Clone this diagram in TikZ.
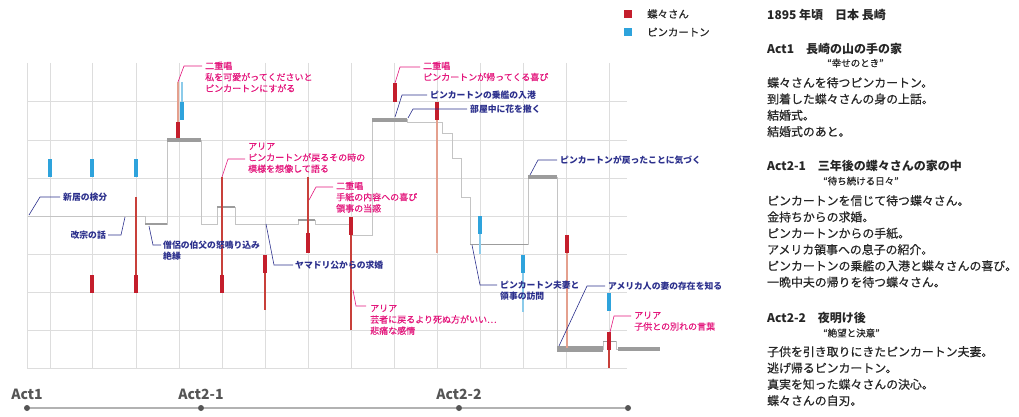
\documentclass[tikz,border=0pt]{standalone}
\usepackage{fontspec}
\setmainfont{Noto Sans CJK JP}
\newfontfamily\jpbody[FakeBold=0.6]{Noto Sans CJK JP}
\newfontfamily\jplabel[FakeBold=0.4]{Noto Sans CJK JP}
\usetikzlibrary{calc}
\definecolor{gridc}{HTML}{DDDDDD}
\definecolor{barred}{HTML}{C41E2C}
\definecolor{thinred}{HTML}{C8403A}
\definecolor{salmonc}{HTML}{E4A08E}
\definecolor{barblue}{HTML}{2EA3DC}
\definecolor{lightblue}{HTML}{8CCBEA}
\definecolor{bargray}{HTML}{9C9C9C}
\definecolor{stepc}{HTML}{C4C4C4}
\definecolor{pinkc}{HTML}{E3177C}
\definecolor{navyc}{HTML}{2B2F8C}
\definecolor{textc}{HTML}{262626}
\definecolor{actc}{HTML}{555555}
\begin{document}
\begin{tikzpicture}[x=1pt,y=-1pt,
  gridline/.style={draw=gridc, line width=0.8pt},
  redbar/.style={draw=barred, line width=4.5pt},
  bluebar/.style={draw=barblue, line width=4.5pt},
  redthin/.style={draw=thinred, line width=1.1pt},
  salmonthin/.style={draw=salmonc, line width=2pt},
  bluethin/.style={draw=lightblue, line width=1.1pt},
  graybar/.style={draw=bargray, line width=4pt},
  graythin/.style={draw=bargray, line width=1.6pt},
  stepline/.style={draw=stepc, line width=1pt},
  pinklab/.style={font=\jplabel\fontsize{9}{11.3}\selectfont, text=pinkc, align=left, inner sep=0pt, anchor=north west},
  navylab/.style={font=\fontsize{8.8}{11}\selectfont\bfseries, text=navyc, align=left, inner sep=0pt, anchor=north west},
  pinklead/.style={draw=pinkc, line width=0.6pt},
  navylead/.style={draw=navyc, line width=0.6pt},
  acttitle/.style={font=\fontsize{14}{14}\selectfont\bfseries, text=actc, inner sep=0pt},
  actdot/.style={circle, fill=actc, inner sep=0pt, minimum size=6pt},
  body/.style={font=\jpbody\fontsize{11.9}{16.3}\selectfont, text=textc, align=left, inner sep=0pt, anchor=north west},
  head/.style={font=\fontsize{12}{16}\selectfont\bfseries, text=textc, inner sep=0pt, anchor=west},
  quote/.style={font=\jpbody\fontsize{9.5}{12}\selectfont, text=textc, inner sep=0pt, anchor=west},
  legsq/.style={minimum size=8pt, inner sep=0pt},
  legtext/.style={font=\jpbody\fontsize{10.4}{12}\selectfont, text=textc, inner sep=0pt, anchor=west}
]
\useasboundingbox (0,0) rectangle (1019,417);

% grid
\foreach \x in {27,50,92,136,179,222,265,308,351,394,437,480,523,566,609}
  \draw[gridline] (\x,63) -- (\x,368);
\foreach \y in {101,140,178,216,254,292,330,368}
  \draw[gridline] (27,\y) -- (627,\y);

% step (mood) line
\draw[stepline] (28,216) -- (145,216) -- (145,224) -- (167,224) -- (167,140) -- (201,140)
  -- (201,224) -- (217,224) -- (217,207) -- (235,207) -- (235,224) -- (298,224) -- (298,220)
  -- (315,220) -- (315,224) -- (350,224) -- (350,235) -- (372,235) -- (372,120) -- (407,120)
  -- (407,123) -- (442,123) -- (442,133) -- (452,133) -- (452,158) -- (461,158) -- (461,197)
  -- (470,197) -- (470,244) -- (528,244) -- (528,177) -- (557,177) -- (557,349) -- (603,349)
  -- (603,341) -- (616,341) -- (616,349) -- (660,349);
\draw[graythin] (145,224) -- (167,224);
\draw[graybar] (167,140) -- (201,140);
\draw[graythin] (217,207) -- (235,207);
\draw[graythin] (298,220) -- (315,220);
\draw[graybar] (372,120) -- (407,120);
\draw[draw=bargray, line width=1pt] (470,244) -- (528,244);
\draw[graybar] (528,177) -- (557,177);
\draw[draw=bargray, line width=5.5pt] (557,349) -- (603,349);
\draw[draw=bargray, line width=1pt] (603,341) -- (616,341);
\draw[graybar] (618,349) -- (660,349);

% Pinkerton (blue)
\draw[bluebar] (50,159) -- (50,177);
\draw[bluebar] (92,159) -- (92,177);
\draw[bluebar] (136,159) -- (136,177);
\draw[bluethin] (182,82) -- (182,102);
\draw[bluebar] (182,102) -- (182,120);
\draw[bluethin] (480,234) -- (480,254);
\draw[bluebar] (480,216) -- (480,234);
\draw[bluethin] (523,273) -- (523,312);
\draw[bluebar] (523,255) -- (523,273);
\draw[bluebar] (609,293) -- (609,311);

% Butterfly (red)
\draw[redbar] (92,275) -- (92,293);
\draw[redthin] (136,197) -- (136,275);
\draw[redbar] (136,275) -- (136,293);
\draw[salmonthin] (178,82) -- (178,122);
\draw[redbar] (178,122) -- (178,138);
\draw[redthin] (222,177) -- (222,275);
\draw[redbar] (222,275) -- (222,293);
\draw[redthin] (265,273) -- (265,310);
\draw[redbar] (265,255) -- (265,273);
\draw[redthin] (308,177) -- (308,233);
\draw[redbar] (308,233) -- (308,253);
\draw[redthin] (351,235) -- (351,330);
\draw[redbar] (351,217) -- (351,235);
\draw[redbar] (395,83) -- (395,102);
\draw[salmonthin] (437,120) -- (437,253);
\draw[redbar] (437,102) -- (437,120);
\draw[salmonthin] (567,253) -- (567,348);
\draw[redbar] (567,235) -- (567,253);
\draw[redthin] (609,350) -- (609,368);
\draw[redbar] (609,332) -- (609,350);

% pink labels
\coordinate (pa1) at (178,82);  \coordinate (pb1) at (202,66);
\node[pinklab] (p1) at (205,61.5) {二重唱\\私を可愛がってくださいと\\ピンカートンにすがる};
\draw[pinklead] (pa1) -- ++(6,-16) -- (pb1);
\coordinate (pa2) at (222,177); \coordinate (pb2) at (245,159);
\node[pinklab] (p2) at (248,142.5) {アリア\\ピンカートンが戻るその時の\\模様を想像して語る};
\draw[pinklead] (pa2) -- ++(6,-18) -- (pb2);
\coordinate (pa3) at (309,200); \coordinate (pb3) at (333,187);
\node[pinklab] (p3) at (336,181.5) {二重唱\\手紙の内容への喜び\\領事の当惑};
\draw[pinklead] (pa3) -- ++(7,-13) -- (pb3);
\coordinate (pa4) at (353,290); \coordinate (pb4) at (366,306);
\node[pinklab] (p4) at (370,304.5) {アリア\\芸者に戻るより死ぬ方がいい…\\悲痛な感情};
\draw[pinklead] (pa4) -- ++(3,16) -- (pb4);
\coordinate (pa5) at (395,83); \coordinate (pb5) at (420,67);
\node[pinklab] (p5) at (423,61.5) {二重唱\\ピンカートンが帰ってくる喜び};
\draw[pinklead] (pa5) -- ++(5,-16) -- (pb5);
\coordinate (pa6) at (610,332); \coordinate (pb6) at (631,316);
\node[pinklab] (p6) at (634,311.5) {アリア\\子供との別れの言葉};
\draw[pinklead] (pa6) -- ++(4,-16) -- (pb6);

% navy labels
\coordinate (na1) at (29,215); \coordinate (nb1) at (60,197);
\node[navylab] (n1) at (63,192.5) {新居の検分};
\draw[navylead] (na1) -- ++(11,-18) -- (nb1);
\coordinate (na2) at (125,217); \coordinate (nb2) at (108,235);
\node[navylab, anchor=north east] (n2) at (106,230.5) {改宗の話};
\draw[navylead] (na2) -- ++(-4,18) -- (nb2);
\coordinate (na3) at (149,226); \coordinate (nb3) at (161,245);
\node[navylab] (n3) at (163,240.5) {僧侶の伯父の怒鳴り込み\\絶縁};
\draw[navylead] (na3) -- ++(4,19) -- (nb3);
\coordinate (na4) at (266,224); \coordinate (nb4) at (293,265);
\node[navylab] (n4) at (295,260.5) {ヤマドリ公からの求婚};
\draw[navylead] (na4) -- ++(8,41) -- (nb4);
\coordinate (na5) at (395,117); \coordinate (nb5) at (427,95);
\node[navylab] (n5) at (430,90.5) {ピンカートンの乗艦の入港};
\draw[navylead] (na5) -- ++(7,-22) -- (nb5);
\coordinate (na6) at (408,118); \coordinate (nb6) at (467,109);
\node[navylab] (n6) at (470,104.5) {部屋中に花を撒く};
\draw[navylead] (na6) -- ++(5,-9) -- (nb6);
\coordinate (na7) at (530,175); \coordinate (nb7) at (557,160);
\node[navylab] (n7) at (560,155.5) {ピンカートンが戻ったことに気づく};
\draw[navylead] (na7) -- ++(8,-15) -- (nb7);
\coordinate (na8) at (472,245); \coordinate (nb8) at (497,285);
\node[navylab] (n8) at (500,280.5) {ピンカートン夫妻と\\領事の訪問};
\draw[navylead] (na8) -- ++(8,40) -- (nb8);
\coordinate (na9) at (559,346); \coordinate (nb9) at (605,286);
\node[navylab] (n9) at (608,281.5) {アメリカ人の妻の存在を知る};
\draw[navylead] (na9) -- ++(28,-60) -- (nb9);

% time axis
\node[actdot] (d1) at (27,408) {};
\node[actdot] (d2) at (201,408) {};
\node[actdot] (d3) at (459,408) {};
\node[actdot] (d4) at (628,408) {};
\draw[draw=gray!60, line width=1.2pt] (d1) -- (d2) -- (d3) -- (d4);
\node[acttitle] (a1) at (27,394) {Act1};
\node[acttitle] (a2) at (201,394) {Act2-1};
\node[acttitle] (a3) at (459,394) {Act2-2};

% legend
\node[legsq, fill=barred] (lr) at (628,14) {};
\node[legtext] (lrt) at (647,14) {蝶々さん};
\node[legsq, fill=barblue] (lb) at (628,32) {};
\node[legtext] (lbt) at (647,32) {ピンカートン};

% right column
\node[head] (h0) at (767,15) {1895 年頃　日本 長崎};
\node[head] (h1) at (767,49) {Act1　長崎の山の手の家};
\node[quote] (q1) at (827,63) {“幸せのとき”};
\node[body] (b1) at (767,77) {蝶々さんを待つピンカートン。\\到着した蝶々さんの身の上話。\\結婚式。\\結婚式のあと。};
\node[head] (h2) at (767,166) {Act2-1　三年後の蝶々さんの家の中};
\node[quote] (q2) at (823,181) {“待ち続ける日々”};
\node[body] (b2) at (767,195) {ピンカートンを信じて待つ蝶々さん。\\金持ちからの求婚。\\ピンカートンからの手紙。\\アメリカ領事への息子の紹介。\\ピンカートンの乗艦の入港と蝶々さんの喜び。\\一晩中夫の帰りを待つ蝶々さん。};
\node[head] (h3) at (767,318) {Act2-2　夜明け後};
\node[quote] (q3) at (823,333) {“絶望と決意”};
\node[body] (b3) at (767,346) {子供を引き取りにきたピンカートン夫妻。\\逃げ帰るピンカートン。\\真実を知った蝶々さんの決心。\\蝶々さんの自刃。};
\end{tikzpicture}
\end{document}
